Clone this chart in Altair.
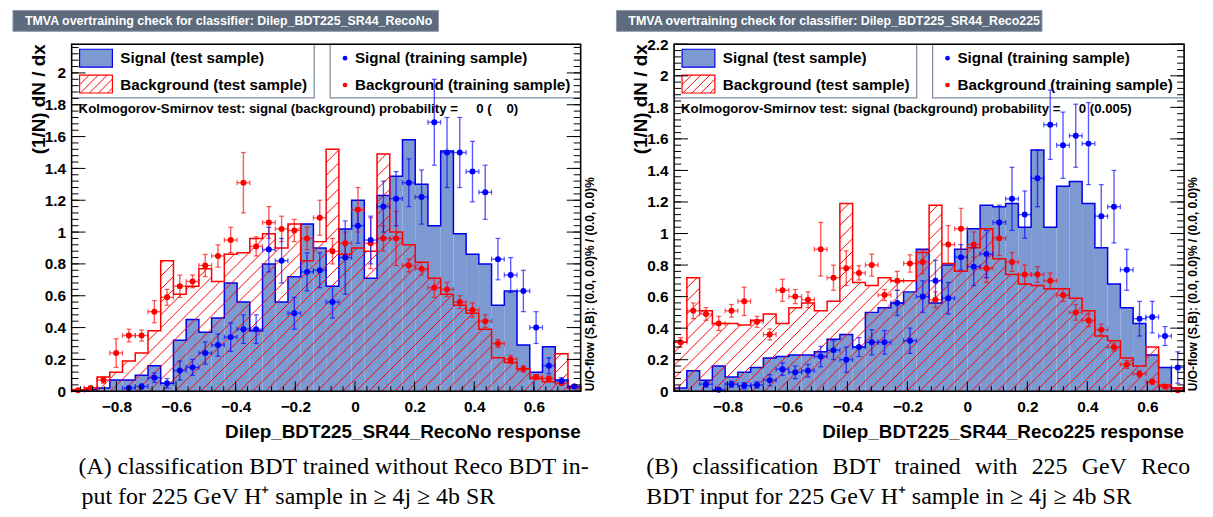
import altair as alt
import numpy as np
import pandas as pd

NB = 40
FONT = "Liberation Sans"
SERIF = "Liberation Serif"
SIG_FILL = "#7d99d1"
SIG_LINE = "#0000ee"
BKG = "#ff0000"
TITLE_BOX = "#5d6b7d"
LEG_BORDER = "#7d8b9d"

X_TICKS = [-0.8, -0.6, -0.4, -0.2, 0, 0.2, 0.4, 0.6]
Y_TICKS_L = [0, 0.2, 0.4, 0.6, 0.8, 1.0, 1.2, 1.4, 1.6, 1.8, 2.0]
Y_TICKS_R = [0, 0.2, 0.4, 0.6, 0.8, 1.0, 1.2, 1.4, 1.6, 1.8, 2.0, 2.2]

# ---------------- left panel: Dilep_BDT225_SR44_RecoNo ----------------
L_sig_test = [0.0, 0.01, 0.02, 0.07, 0.07, 0.10, 0.16, 0.05, 0.32, 0.45,
              0.37, 0.46, 0.68, 0.56, 0.38, 0.80, 0.56, 0.72, 1.05, 0.90,
              0.66, 1.02, 1.20, 0.71, 1.23, 1.35, 1.58, 1.30, 1.04, 1.51,
              0.99, 0.86, 0.80, 0.54, 0.63, 0.29, 0.12, 0.28, 0.07, 0.03]
L_bkg_test = [0.01, 0.02, 0.09, 0.12, 0.19, 0.24, 0.38, 0.82, 0.61, 0.66,
              0.77, 0.69, 0.86, 0.87, 0.96, 0.99, 0.90, 1.05, 0.82, 0.94,
              1.52, 0.86, 0.90, 0.88, 1.49, 1.00, 0.92, 0.81, 0.71, 0.61,
              0.54, 0.49, 0.39, 0.21, 0.18, 0.14, 0.08, 0.06, 0.235, 0.02]
L_sig_train = [None, None, None, None, 0.02, 0.03, 0.085, 0.05, 0.13, 0.15,
               0.24, 0.29, 0.34, 0.39, 0.39, 0.89, 0.82, 0.49, 0.75, 0.76,
               0.56, 0.84, 1.04, 0.95, 1.16, 1.21, 1.31, 1.22, 1.69, 1.50,
               1.50, 1.38, 1.25, 0.83, 0.73, 0.63, 0.40, 0.16, 0.065, 0.03]
L_sig_err = [0, 0, 0, 0, 0.01, 0.015, 0.03, 0.03, 0.06, 0.05,
             0.07, 0.07, 0.09, 0.09, 0.09, 0.14, 0.14, 0.10, 0.12, 0.11,
             0.10, 0.23, 0.11, 0.15, 0.16, 0.17, 0.15, 0.17, 0.27, 0.22,
             0.22, 0.19, 0.17, 0.13, 0.11, 0.13, 0.10, 0.05, 0.02, 0.01]
L_bkg_train = [0.006, 0.02, 0.07, 0.24, 0.35, 0.35, 0.50, 0.59, 0.66, 0.69,
               0.79, 0.85, 0.95, 1.31, 0.91, 1.06, 1.02, 1.01, 0.96, 1.09,
               0.88, 0.93, 1.14, 0.93, 0.96, 0.96, 0.79, 0.77, 0.65, 0.64,
               0.56, 0.51, 0.44, 0.30, 0.20, 0.14, 0.09, 0.08, 0.05, 0.03]
L_bkg_err = [0.005, 0.01, 0.02, 0.09, 0.04, 0.035, 0.07, 0.05, 0.07, 0.04,
             0.07, 0.07, 0.08, 0.19, 0.06, 0.10, 0.08, 0.07, 0.07, 0.11,
             0.08, 0.07, 0.14, 0.16, 0.08, 0.17, 0.04, 0.04, 0.06, 0.045,
             0.04, 0.045, 0.04, 0.025, 0.025, 0.02, 0.015, 0.015, 0.01, 0.01]

# ---------------- right panel: Dilep_BDT225_SR44_Reco225 ----------------
R_sig_test = [0.02, 0.13, 0.07, 0.16, 0.09, 0.12, 0.15, 0.21, 0.22, 0.23,
              0.23, 0.25, 0.33, 0.36, 0.28, 0.50, 0.53, 0.56, 0.63, 0.90,
              0.56, 0.80, 0.90, 1.03, 1.18, 1.17, 1.19, 1.04, 1.53, 1.04,
              1.30, 1.33, 1.19, 0.91, 0.68, 0.53, 0.43, 0.23, 0.15, 0.02]
R_bkg_test = [0.31, 0.72, 0.51, 0.43, 0.43, 0.42, 0.45, 0.49, 0.43, 0.53,
              0.56, 0.51, 0.57, 1.19, 0.69, 0.67, 0.72, 0.70, 0.70, 0.88,
              1.18, 0.81, 0.76, 0.91, 1.03, 0.84, 0.74, 0.68, 0.67, 0.65,
              0.65, 0.59, 0.51, 0.35, 0.32, 0.21, 0.16, 0.28, 0.04, 0.02]
R_sig_train = [None, None, 0.045, 0.01, 0.045, 0.035, 0.04, 0.07, 0.14, 0.12,
               0.13, 0.22, 0.26, 0.20, 0.28, 0.31, 0.31, 0.56, 0.32, 0.60,
               0.70, 0.59, 0.85, 0.79, 0.87, 1.07, 1.22, 1.12, 1.35, 1.69,
               1.56, 1.62, 1.57, 1.11, 1.17, 0.77, 0.46, 0.47, 0.35, 0.15]
R_sig_err = [0, 0, 0.02, 0.01, 0.02, 0.02, 0.02, 0.035, 0.04, 0.04,
             0.04, 0.065, 0.06, 0.08, 0.06, 0.08, 0.075, 0.08, 0.08, 0.10,
             0.13, 0.10, 0.08, 0.12, 0.15, 0.11, 0.20, 0.15, 0.18, 0.22,
             0.21, 0.20, 0.26, 0.20, 0.23, 0.13, 0.11, 0.10, 0.06, 0.10]
R_bkg_train = [0.31, 0.51, 0.49, 0.43, 0.51, 0.57, 0.44, 0.36, 0.64, 0.60,
               0.58, 0.90, 0.72, 0.78, 0.75, 0.80, 0.61, 0.70, 0.81, 0.82,
               0.58, 0.93, 1.03, 0.93, 0.78, 0.97, 0.82, 0.74, 0.74, 0.70,
               0.61, 0.50, 0.45, 0.39, 0.28, 0.17, 0.11, 0.06, 0.03, 0.006]
R_bkg_err = [0.03, 0.05, 0.04, 0.045, 0.04, 0.09, 0.035, 0.035, 0.07, 0.045,
             0.05, 0.17, 0.08, 0.11, 0.045, 0.07, 0.035, 0.06, 0.055, 0.075,
             0.05, 0.12, 0.13, 0.08, 0.09, 0.11, 0.06, 0.06, 0.05, 0.05,
             0.04, 0.05, 0.04, 0.035, 0.025, 0.025, 0.02, 0.015, 0.01, 0.005]

CAP_A1 = "(A) classification BDT trained without Reco BDT in-"
CAP_A2 = "put for 225 GeV H\u207a sample in \u2265 4j \u2265 4b SR"
CAP_B1 = "(B) classification BDT trained with 225 GeV Reco"
CAP_B2 = "BDT input for 225 GeV H\u207a sample in \u2265 4j \u2265 4b SR"

H = 349
HATCH = 13.0
CAP_SIZE = 24

ONE = pd.DataFrame({"k": [0]})

# approximate Times/Liberation Serif advance widths (per 1000 em) for justification
TW = {" ": 250, "(": 333, ")": 333, "-": 333, "\u207a": 400, "\u2265": 549,
      "A": 722, "B": 667, "D": 722, "G": 722, "H": 722, "R": 667, "S": 556, "T": 611, "V": 722,
      "a": 444, "b": 500, "c": 444, "d": 500, "e": 444, "f": 333, "g": 500, "h": 500,
      "i": 278, "j": 278, "k": 500, "l": 278, "m": 778, "n": 500, "o": 500, "p": 500,
      "r": 333, "s": 389, "t": 278, "u": 500, "v": 500, "w": 722, "x": 500, "y": 500}


def tw(s, size):
    return sum(TW.get(ch, 500) for ch in s) * size / 1000.0


def hatch_segments(X0, X1, Y0, Y1, s):
    segs = []
    kmin = int(np.floor((X0 - Y1) / s)) - 1
    kmax = int(np.ceil((X1 - Y0) / s)) + 1
    for k in range(kmin, kmax + 1):
        c = k * s
        xa = max(X0, c + Y0)
        xb = min(X1, c + Y1)
        if xb - xa > 0.3:
            segs.append((xa, xa - c, xb, xb - c))
    return segs


def text_layer(txt, x, y, size, align="left", baseline="middle", angle=0,
               color="black", font=FONT, weight="bold"):
    return alt.Chart(pd.DataFrame({"t": [txt]})).mark_text(
        align=align, baseline=baseline, angle=angle, fontSize=size,
        font=font, fontWeight=weight, color=color
    ).encode(x=alt.value(x), y=alt.value(y), text="t:N")


def justified(line, x0, x1, y):
    words = line.split(" ")
    ws = [tw(w, CAP_SIZE) for w in words]
    gap = max((x1 - x0 - sum(ws)) / (len(words) - 1), 0.2 * CAP_SIZE)
    out = []
    x = x0
    for w, wd in zip(words, ws):
        out.append(text_layer(w, x, y, CAP_SIZE, font=SERIF, weight="normal"))
        x += wd + gap
    return out


def rect_layer(x0, x1, y0, y1, fill, stroke, sw=1.0, fop=1.0):
    return alt.Chart(ONE).mark_rect(
        fill=fill, stroke=stroke, strokeWidth=sw, fillOpacity=fop
    ).encode(x=alt.value(x0), x2=alt.value(x1), y=alt.value(y0), y2=alt.value(y1))


def make_panel(title, tbox, resp, ks, sig_test, bkg_test, sig_tr, sig_err, bkg_tr, bkg_err,
               xlo, xhi, ymax, W, yticks):
    edges = np.linspace(xlo, xhi, NB + 1)
    cen = 0.5 * (edges[:-1] + edges[1:])
    bw = edges[1] - edges[0]
    pxu = W / (xhi - xlo)
    pyu = H / ymax

    xsc = alt.Scale(domain=[xlo, xhi], nice=False, zero=False)
    ysc = alt.Scale(domain=[0, ymax], nice=False, zero=False)
    xax = alt.Axis(values=X_TICKS, format="~g", labelFont=FONT, labelFontWeight="bold",
                   labelFontSize=15.5, labelColor="black", ticks=False, domain=False,
                   grid=False, labelPadding=8, labelOverlap=False, labelFlush=False,
                   title=None)
    yax = alt.Axis(values=yticks, format="~g", labelFont=FONT, labelFontWeight="bold",
                   labelFontSize=15.5, labelColor="black", ticks=False, domain=False,
                   grid=False, labelPadding=6, labelOverlap=False, labelFlush=False,
                   title=None)

    def X(f):
        return alt.X(f, type="quantitative", scale=xsc, axis=xax)

    def Y(f):
        return alt.Y(f, type="quantitative", scale=ysc, axis=yax)

    layers = []

    # signal test histogram (filled)
    fill_df = pd.DataFrame({"x": list(edges), "y": list(sig_test) + [sig_test[-1]],
                            "i": list(range(NB + 1))})
    layers.append(alt.Chart(fill_df).mark_area(interpolate="step-after", color=SIG_FILL)
                  .encode(x=X("x"), y=Y("y"), order=alt.Order("i:Q")))

    def outline(vals):
        xs = [edges[0]] + list(edges[:-1]) + [edges[-1], edges[-1]]
        ys = [0.0] + list(vals) + [vals[-1], 0.0]
        return pd.DataFrame({"x": xs, "y": ys, "i": list(range(len(xs)))})

    layers.append(alt.Chart(outline(sig_test)).mark_line(
        interpolate="step-after", color=SIG_LINE, strokeWidth=1.5)
        .encode(x=X("x"), y=Y("y"), order=alt.Order("i:Q")))

    # background test histogram (hatched)
    segs = []
    for k, v in enumerate(bkg_test):
        X0 = k * bw * pxu
        X1 = (k + 1) * bw * pxu
        segs += hatch_segments(X0, X1, 0.0, v * pyu, HATCH)
    hdf = pd.DataFrame([{"x": xlo + a / pxu, "y": b / pyu, "x2": xlo + c / pxu, "y2": d / pyu}
                        for a, b, c, d in segs])
    layers.append(alt.Chart(hdf).mark_rule(color=BKG, strokeWidth=1)
                  .encode(x=X("x"), y=Y("y"), x2="x2", y2="y2"))
    layers.append(alt.Chart(outline(bkg_test)).mark_line(
        interpolate="step-after", color=BKG, strokeWidth=1.5)
        .encode(x=X("x"), y=Y("y"), order=alt.Order("i:Q")))

    # legend boxes
    layers.append(rect_layer(0, 244, 0, 54, "white", LEG_BORDER, 1.2))
    layers.append(rect_layer(260, W, 0, 54, "white", LEG_BORDER, 1.2))
    layers.append(rect_layer(8, 41, 5, 23, SIG_FILL, SIG_LINE, 1.2))
    layers.append(rect_layer(8, 41, 31, 49, "white", BKG, 1.2))
    lsegs = hatch_segments(8, 41, H - 49, H - 31, HATCH * 0.7)
    ldf = pd.DataFrame([{"x": xlo + a / pxu, "y": b / pyu, "x2": xlo + c / pxu, "y2": d / pyu}
                        for a, b, c, d in lsegs])
    layers.append(alt.Chart(ldf).mark_rule(color=BKG, strokeWidth=1)
                  .encode(x=X("x"), y=Y("y"), x2="x2", y2="y2"))
    layers.append(text_layer("Signal (test sample)", 49, 14, 15.3))
    layers.append(text_layer("Background (test sample)", 49, 41, 15.3))
    layers.append(text_layer("Signal (training sample)", 285, 14, 15.3))
    layers.append(text_layer("Background (training sample)", 285, 41, 15.3))
    layers.append(alt.Chart(ONE).mark_circle(size=22, color="#0000ff", opacity=1)
                  .encode(x=alt.value(275), y=alt.value(14)))
    layers.append(alt.Chart(ONE).mark_circle(size=22, color=BKG, opacity=1)
                  .encode(x=alt.value(275), y=alt.value(41)))
    layers.append(text_layer(ks, 7, 65, 13.3))

    # training samples: error bars and markers
    def pts(vals, errs):
        rows = []
        for k, (v, e) in enumerate(zip(vals, errs)):
            if v is None:
                continue
            rows.append({"x": cen[k], "v": v, "lo": max(v - e, 0), "hi": v + e,
                         "xl": edges[k], "xr": edges[k + 1]})
        return pd.DataFrame(rows)

    for vals, errs, col in [(bkg_tr, bkg_err, BKG), (sig_tr, sig_err, "#0000ff")]:
        d = pts(vals, errs)
        base = alt.Chart(d)
        layers.append(base.mark_rule(color=col, strokeWidth=1.4, opacity=0.65)
                      .encode(x=X("x"), y=Y("lo"), y2="hi"))
        layers.append(base.mark_rule(color=col, strokeWidth=1.4, opacity=0.65)
                      .encode(x=X("xl"), x2="xr", y=Y("v")))
        for f in ["lo", "hi"]:
            layers.append(base.mark_tick(orient="horizontal", size=5, thickness=1.2,
                                         color=col, opacity=0.65)
                          .encode(x=X("x"), y=Y(f)))
        for f in ["xl", "xr"]:
            layers.append(base.mark_tick(orient="vertical", size=5, thickness=1.2,
                                         color=col, opacity=0.65)
                          .encode(x=X(f), y=Y("v")))
    for vals, errs, col in [(bkg_tr, bkg_err, BKG), (sig_tr, sig_err, "#0000ff")]:
        d = pts(vals, errs)
        layers.append(alt.Chart(d).mark_circle(size=36, color=col, opacity=1)
                      .encode(x=X("x"), y=Y("v")))

    # axis tick marks drawn inside the frame
    ymaj = pd.DataFrame({"y": yticks})
    ymin = pd.DataFrame({"y": [t for t in np.arange(0, ymax + 1e-9, 0.04)]})
    for d, ln in [(ymaj, 14), (ymin, 7)]:
        layers.append(alt.Chart(d).mark_rule(color="black", strokeWidth=1)
                      .encode(y=Y("y"), x=alt.value(0), x2=alt.value(ln)))
        layers.append(alt.Chart(d).mark_rule(color="black", strokeWidth=1)
                      .encode(y=Y("y"), x=alt.value(W - ln), x2=alt.value(W)))
    xmaj = pd.DataFrame({"x": X_TICKS})
    xmin_vals = [t for t in np.arange(-1.0, 0.8, 0.04) if xlo < t < xhi]
    xmin = pd.DataFrame({"x": xmin_vals})
    for d, ln in [(xmaj, 10), (xmin, 5)]:
        layers.append(alt.Chart(d).mark_rule(color="black", strokeWidth=1)
                      .encode(x=X("x"), y=alt.value(H), y2=alt.value(H - ln)))

    # frame
    layers.append(rect_layer(0, W, 0, H, "white", "black", 1.5, 0.0))

    # titles and side texts
    layers.append(rect_layer(tbox[0], tbox[1], -34, -13, TITLE_BOX, "#8a97a8", 1.0))
    layers.append(text_layer(title, tbox[0] + 12, -23.5, 12.5, color="white"))
    layers.append(text_layer("(1/N) dN / dx", -33, 0, 19, align="right", angle=270))
    layers.append(text_layer(resp, W, 390, 19, align="right"))
    layers.append(text_layer("U/O-flow (S,B): (0.0, 0.0)% / (0.0, 0.0)%", W + 9, H, 12,
                             align="left", angle=270))
    return layers


NB_SP = "\u00a0"
ks_L = "Kolmogorov-Smirnov test: signal (background) probability =" + NB_SP * 5 + "0 (" + NB_SP * 4 + "0)"
ks_R = "Kolmogorov-Smirnov test: signal (background) probability =" + NB_SP * 5 + "0 (0.005)"

left_layers = make_panel("TMVA overtraining check for classifier: Dilep_BDT225_SR44_RecoNo",
                         (-59, 369), "Dilep_BDT225_SR44_RecoNo response", ks_L,
                         L_sig_test, L_bkg_test, L_sig_train, L_sig_err, L_bkg_train, L_bkg_err,
                         -0.95, 0.7567, 2.18, 512, Y_TICKS_L)
right_layers = make_panel("TMVA overtraining check for classifier: Dilep_BDT225_SR44_Reco225",
                          (-58, 370), "Dilep_BDT225_SR44_Reco225 response", ks_R,
                          R_sig_test, R_bkg_test, R_sig_train, R_sig_err, R_bkg_train, R_bkg_err,
                          -0.9778, 0.7226, 2.2, 513, Y_TICKS_R)

left_layers += justified(CAP_A1, 7, 520, 425)
left_layers.append(text_layer(CAP_A2, 10, 455, CAP_SIZE, font=SERIF, weight="normal"))
right_layers += justified(CAP_B1, -28, 519, 425)
right_layers.append(text_layer(CAP_B2, -28, 455, CAP_SIZE, font=SERIF, weight="normal"))

left = alt.layer(*left_layers).properties(width=512, height=H)
right = alt.layer(*right_layers).properties(width=513, height=H)

chart = alt.hconcat(left, right, spacing=94, bounds="flush").properties(
    padding={"left": 4, "top": 0, "right": 6, "bottom": 2},
    background="white",
).configure_view(stroke=None)

chart.save("out.html", embed_options={"renderer": "svg", "actions": False})
